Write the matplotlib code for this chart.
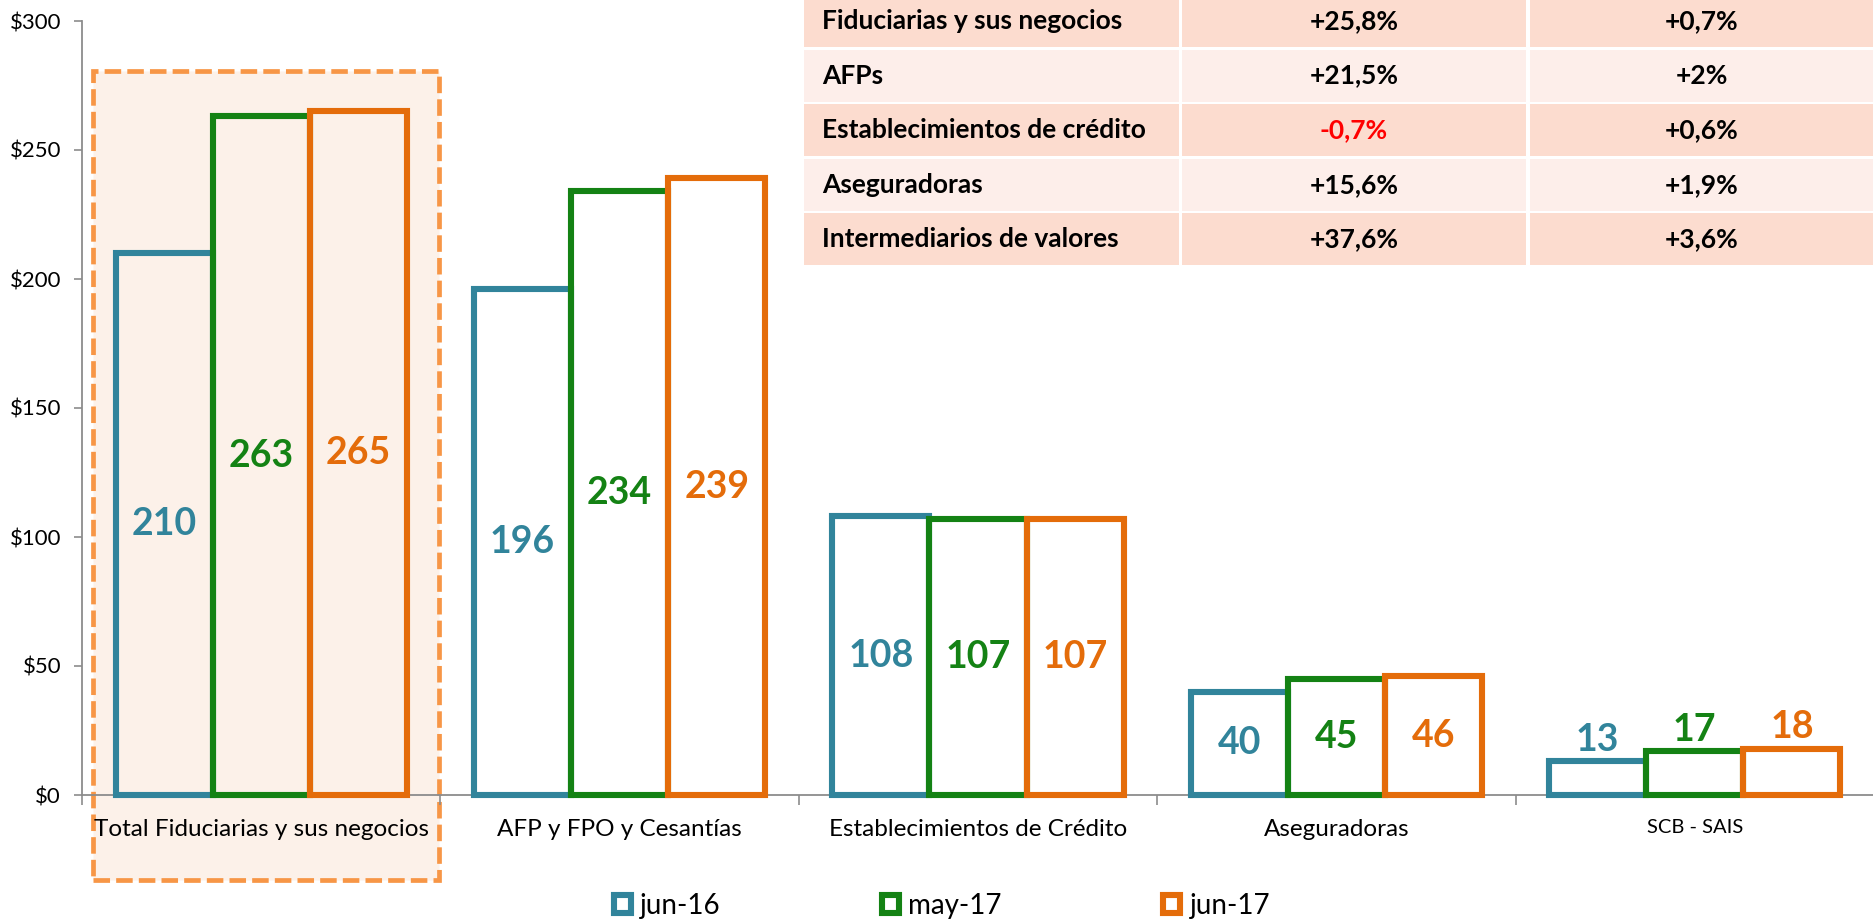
import matplotlib
matplotlib.use("Agg")
import matplotlib.pyplot as plt
from matplotlib.patches import Rectangle
from matplotlib.ticker import StrMethodFormatter

plt.rcParams['font.family'] = ['Lato', 'DejaVu Sans']

# data
categories = ['Total Fiduciarias y sus negocios', 'AFP y FPO y Cesantías',
              'Establecimientos de Crédito', 'Aseguradoras', 'SCB - SAIS']
series_names = ['jun-16', 'may-17', 'jun-17']
jun16 = [210, 196, 108, 40, 13]
may17 = [263, 234, 107, 45, 17]
jun17 = [265, 239, 107, 46, 18]
yticks = [0, 50, 100, 150, 200, 250, 300]

table_rows = ['Fiduciarias y sus negocios', 'AFPs', 'Establecimientos de crédito',
              'Aseguradoras', 'Intermediarios de valores']
annual_change = ['+25,8%', '+21,5%', '-0,7%', '+15,6%', '+37,6%']
monthly_change = ['+0,7%', '+2%', '+0,6%', '+1,9%', '+3,6%']

colors = ['#31849B', '#148214', '#E46C0A']

W, H = 1874, 924


def fx(x):
    return x / W


def fy(y):
    return 1 - y / H


fig = plt.figure(figsize=(W / 100, H / 100), dpi=100)
ax = fig.add_axes([fx(82), fy(795), 1 - fx(82), fy(21) - fy(795)])
ax.set_facecolor('none')

# highlight box around the first group
box = Rectangle((fx(93), fy(880)), fx(439) - fx(93), fy(71) - fy(880),
                transform=fig.transFigure, facecolor='#FCF1E9', edgecolor='#F79646',
                lw=3.4, linestyle=(0, (3.5, 1.3)), zorder=-1)
fig.add_artist(box)

w = 0.271
xs = range(len(categories))
handles = []
for k, (vals, c) in enumerate(zip([jun16, may17, jun17], colors)):
    pos = [i + (k - 1) * w for i in xs]
    b = ax.bar(pos, vals, width=w, facecolor='none', edgecolor=c, lw=4.4,
               zorder=3 + k, clip_on=False, label=series_names[k])
    handles.append(b)
    for p, v in zip(pos, vals):
        if v < 25:
            ax.annotate(str(v), (p, v), xytext=(0, 3), textcoords='offset points',
                        ha='center', va='bottom', color=c, fontsize=27,
                        fontweight='bold')
        else:
            ax.text(p, v / 2, str(v), ha='center', va='center', color=c,
                    fontsize=27, fontweight='bold')

ax.set_xlim(-0.5, len(categories) - 0.5)
ax.set_ylim(0, 300)
ax.set_yticks(yticks)
ax.yaxis.set_major_formatter(StrMethodFormatter('${x:,.0f}'))
ax.tick_params(axis='y', length=6, width=1.2, color='#8C8C8C', pad=9, labelsize=16)

ax.set_xticks(list(xs))
ax.set_xticklabels(categories)
ax.set_xticks([i - 0.5 for i in range(len(categories) + 1)], minor=True)
ax.tick_params(axis='x', which='major', length=0, pad=17, labelsize=17.5)
ax.tick_params(axis='x', which='minor', length=7, width=1.2, color='#8C8C8C')
ax.get_xticklabels()[-1].set_fontsize(14.5)

for s in ['top', 'right']:
    ax.spines[s].set_visible(False)
for s in ['left', 'bottom']:
    ax.spines[s].set_color('#8C8C8C')
    ax.spines[s].set_linewidth(1.3)

# summary table in the upper right
col_edges = [(804, 1179), (1182, 1526), (1530, 1874)]
row_top, row_pitch, row_h = -5, 54.6, 52
for r, (name, a, m) in enumerate(zip(table_rows, annual_change, monthly_change)):
    top = row_top + r * row_pitch
    fill = '#FCDCCF' if r % 2 == 0 else '#FDEEEA'
    for x0, x1 in col_edges:
        fig.add_artist(Rectangle((fx(x0), fy(top + row_h)), fx(x1) - fx(x0),
                                 fy(top) - fy(top + row_h), transform=fig.transFigure,
                                 facecolor=fill, edgecolor='none', zorder=5))
    yc = fy(top + row_h / 2)
    fig.text(fx(822), yc, name, ha='left', va='center', fontsize=19,
             fontweight='bold', zorder=6)
    for (x0, x1), val in zip(col_edges[1:], [a, m]):
        fig.text(fx((x0 + x1) / 2), yc, val, ha='center', va='center', fontsize=19,
                 fontweight='bold', color='#FF0000' if val.startswith('-') else 'black',
                 zorder=6)

fig.legend(handles=handles, loc='center', bbox_to_anchor=(fx(942), fy(906)), ncol=3,
           frameon=False, fontsize=20, handlelength=0.6, handleheight=0.6,
           handletextpad=0.35, columnspacing=5.8, borderpad=0)

fig.savefig('out.png', dpi=100)
